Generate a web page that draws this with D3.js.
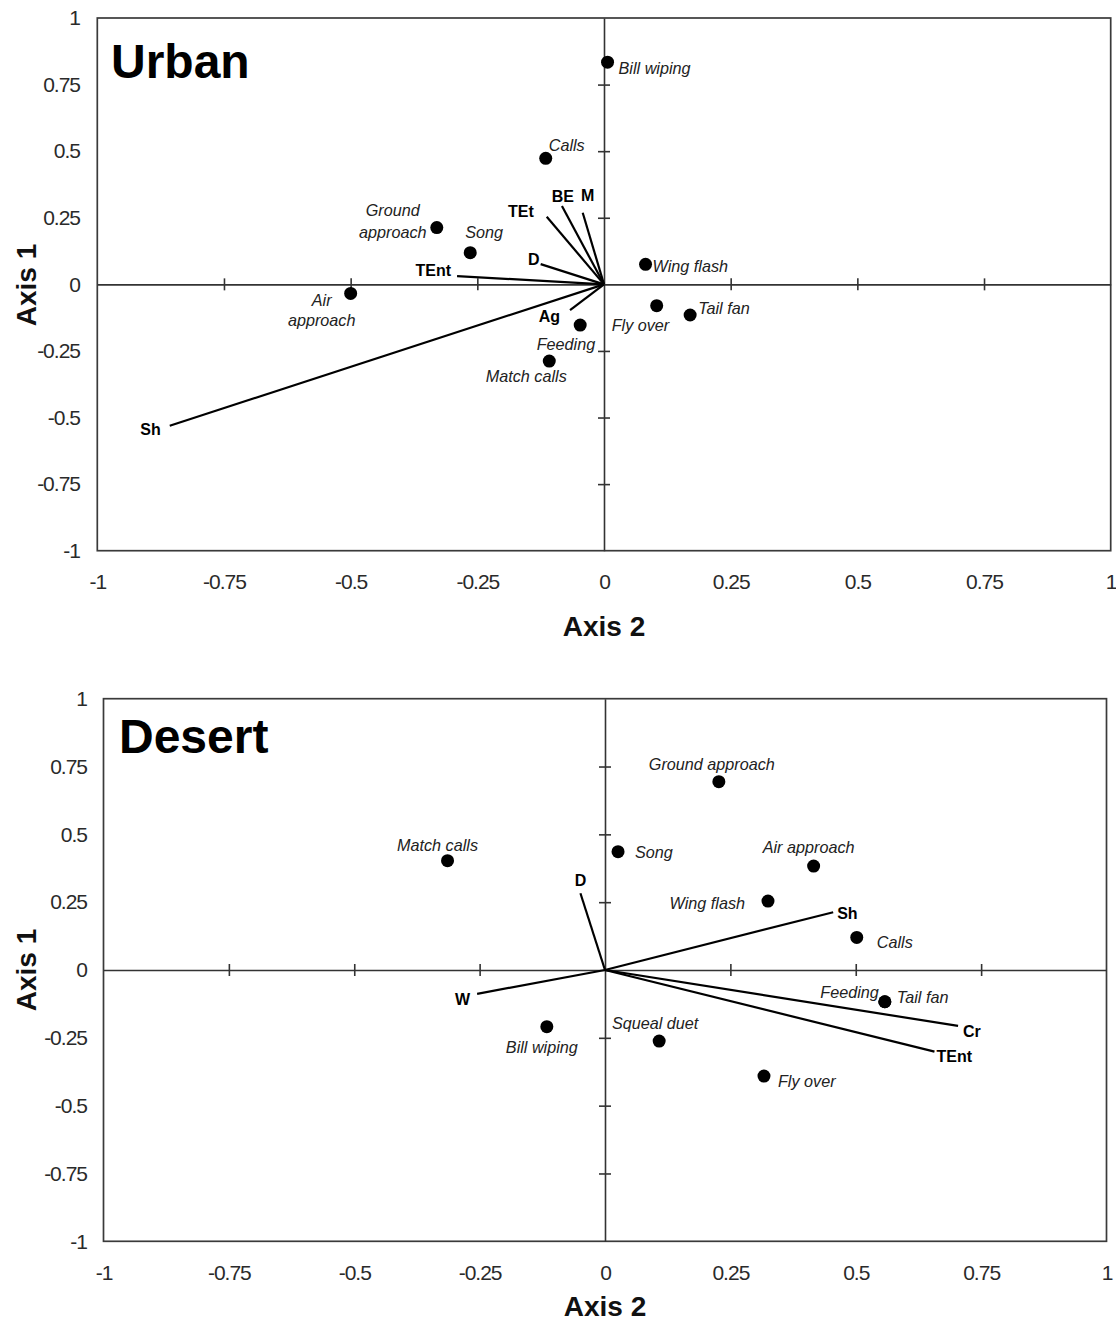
<!DOCTYPE html>
<html>
<head>
<meta charset="utf-8">
<script src="https://cdn.jsdelivr.net/npm/d3@7/dist/d3.min.js"></script>
<style>
  html, body { margin: 0; padding: 0; background: #fff; }
  svg { display: block; }
</style>
</head>
<body>
<svg id="chart" width="1116" height="1322"></svg>
<script>
// ---------------- DATA ----------------
const tickValues = [-1, -0.75, -0.5, -0.25, 0, 0.25, 0.5, 0.75, 1];
const tickLabels = ["-1", "-0.75", "-0.5", "-0.25", "0", "0.25", "0.5", "0.75", "1"];
const innerTicks = [-0.75, -0.5, -0.25, 0.25, 0.5, 0.75];

// Urban: behaviours (Axis 2 = x, Axis 1 = y)
const urbanBehaviours = ["Bill wiping", "Calls", "Ground approach", "Song", "Air approach",
                         "Wing flash", "Fly over", "Tail fan", "Feeding", "Match calls"];
const urbanBehAxis2 = [0.007, -0.115, -0.330, -0.264, -0.500, 0.082, 0.104, 0.170, -0.047, -0.108];
const urbanBehAxis1 = [0.834, 0.473, 0.213, 0.119, -0.034, 0.075, -0.080, -0.115, -0.153, -0.288];
// Urban: variables (vectors)
const urbanVars = ["TEnt", "D", "TEt", "BE", "M", "Ag", "Sh"];
const urbanVarAxis2 = [-0.290, -0.125, -0.113, -0.083, -0.042, -0.067, -0.857];
const urbanVarAxis1 = [0.031, 0.076, 0.254, 0.294, 0.269, -0.097, -0.531];

// Desert: behaviours
const desertBehaviours = ["Ground approach", "Match calls", "Song", "Air approach", "Wing flash",
                          "Calls", "Tail fan", "Feeding", "Bill wiping", "Squeal duet", "Fly over"];
const desertBehAxis2 = [0.227, -0.314, 0.026, 0.416, 0.325, 0.502, 0.558, 0.558, -0.116, 0.108, 0.317];
const desertBehAxis1 = [0.694, 0.403, 0.436, 0.383, 0.254, 0.120, -0.117, -0.117, -0.209, -0.262, -0.391];
// Desert: variables
const desertVars = ["D", "W", "Sh", "Cr", "TEnt"];
const desertVarAxis2 = [-0.049, -0.255, 0.455, 0.704, 0.657];
const desertVarAxis1 = [0.283, -0.088, 0.213, -0.206, -0.301];

// ---------------- LAYOUT (label placement, px) ----------------
const urbanBehLabelPos = {
  "Bill wiping":     {dx: 11, dy: 6, a: "start"},
  "Calls":           {dx: 3, dy: -13, a: "start"},
  "Ground approach": {dx: -44, dy: -17, a: "middle", lines: ["Ground", "approach"], lh: 22},
  "Song":            {dx: -5, dy: -20, a: "start"},
  "Air approach":    {dx: -29, dy: 7, a: "middle", lines: ["Air", "approach"], lh: 20},
  "Wing flash":      {dx: 7, dy: 2, a: "start"},
  "Fly over":        {dx: -45, dy: 20, a: "start"},
  "Tail fan":        {dx: 8, dy: -7, a: "start"},
  "Feeding":         {dx: 15, dy: 19, a: "end"},
  "Match calls":     {dx: -23, dy: 15, a: "middle"}
};
const urbanVarLabelPos = {
  "TEnt": {dx: -6, dy: -6, a: "end"},
  "D":    {dx: -1, dy: -5, a: "end"},
  "TEt":  {dx: -13, dy: -5, a: "end"},
  "BE":   {dx: 1, dy: -10, a: "middle"},
  "M":    {dx: 5, dy: -17, a: "middle"},
  "Ag":   {dx: -10, dy: 6, a: "end"},
  "Sh":   {dx: -9, dy: 4, a: "end"}
};
const desertBehLabelPos = {
  "Ground approach": {dx: -7, dy: -17, a: "middle"},
  "Match calls":     {dx: -10, dy: -15, a: "middle"},
  "Song":            {dx: 17, dy: 1, a: "start"},
  "Air approach":    {dx: -5, dy: -19, a: "middle"},
  "Wing flash":      {dx: -23, dy: 2, a: "end"},
  "Calls":           {dx: 20, dy: 5, a: "start"},
  "Tail fan":        {dx: 12, dy: -4, a: "start"},
  "Feeding":         {dx: -6, dy: -9, a: "end"},
  "Bill wiping":     {dx: -5, dy: 21, a: "middle"},
  "Squeal duet":     {dx: -4, dy: -18, a: "middle"},
  "Fly over":        {dx: 14, dy: 5, a: "start"}
};
const desertVarLabelPos = {
  "D":    {dx: 0, dy: -13, a: "middle"},
  "W":    {dx: -7, dy: 6, a: "end"},
  "Sh":   {dx: 4, dy: 1, a: "start"},
  "Cr":   {dx: 5, dy: 6, a: "start"},
  "TEnt": {dx: 2, dy: 5, a: "start"}
};

const panels = [
  {
    title: "Urban", titleX: 111, titleY: 78,
    x0: 97.3, x1: 1110.7, y0: 18, y1: 550.7,
    xLabelY: 582, yLabelX: 80, axis2Y: 626, axis1Y: 285,
    beh: urbanBehaviours, bx: urbanBehAxis2, by: urbanBehAxis1, bpos: urbanBehLabelPos,
    vars: urbanVars, vx: urbanVarAxis2, vy: urbanVarAxis1, vpos: urbanVarLabelPos
  },
  {
    title: "Desert", titleX: 119, titleY: 753,
    x0: 103.5, x1: 1106.5, y0: 698.7, y1: 1241.3,
    xLabelY: 1273, yLabelX: 87, axis2Y: 1306, axis1Y: 970,
    beh: desertBehaviours, bx: desertBehAxis2, by: desertBehAxis1, bpos: desertBehLabelPos,
    vars: desertVars, vx: desertVarAxis2, vy: desertVarAxis1, vpos: desertVarLabelPos
  }
];

// ---------------- DRAW ----------------
const svg = d3.select("#chart");
svg.append("rect").attr("width", 1116).attr("height", 1322).attr("fill", "#fff");

const FONT = "'Liberation Sans', Arial, Helvetica, sans-serif";
const fmt = v => tickLabels[tickValues.indexOf(v)];

panels.forEach(p => {
  const x = d3.scaleLinear().domain([-1, 1]).range([p.x0, p.x1]);
  const y = d3.scaleLinear().domain([-1, 1]).range([p.y1, p.y0]);
  const g = svg.append("g");

  // frame
  g.append("rect")
    .attr("x", x(-1)).attr("y", y(1))
    .attr("width", x(1) - x(-1)).attr("height", y(-1) - y(1))
    .attr("fill", "none").attr("stroke", "#3a3a3a").attr("stroke-width", 1.7);

  // zero axes with crossing ticks
  const hx = g.append("g").attr("transform", `translate(0,${y(0)})`)
    .call(d3.axisBottom(x).tickValues(innerTicks).tickSize(6).tickSizeOuter(0).tickFormat(""));
  hx.selectAll(".tick line").attr("y1", -6).attr("y2", 6);
  const vy = g.append("g").attr("transform", `translate(${x(0)},0)`)
    .call(d3.axisLeft(y).tickValues(innerTicks).tickSize(6).tickSizeOuter(0).tickFormat(""));
  vy.selectAll(".tick line").attr("x1", -6).attr("x2", 6);
  [hx, vy].forEach(a => {
    a.select(".domain").attr("stroke", "#333").attr("stroke-width", 1.6);
    a.selectAll(".tick line").attr("stroke", "#333").attr("stroke-width", 1.6);
  });

  // outer tick labels
  const bx = g.append("g").attr("transform", `translate(0,${p.xLabelY})`)
    .call(d3.axisBottom(x).tickValues(tickValues).tickSize(0).tickPadding(0).tickFormat(fmt));
  bx.select(".domain").remove();
  bx.selectAll("text").attr("dy", "0.35em").attr("y", 0)
    .attr("font-family", FONT).attr("font-size", 21).attr("fill", "#2a2a2a")
    .attr("letter-spacing", -1);
  const ly = g.append("g").attr("transform", `translate(${p.yLabelX},0)`)
    .call(d3.axisLeft(y).tickValues(tickValues).tickSize(0).tickPadding(0).tickFormat(fmt));
  ly.select(".domain").remove();
  ly.selectAll("text").attr("x", 0)
    .attr("font-family", FONT).attr("font-size", 21).attr("fill", "#2a2a2a")
    .attr("letter-spacing", -1);

  // axis titles
  g.append("text").attr("x", x(0)).attr("y", p.axis2Y).attr("dy", "0.35em")
    .attr("text-anchor", "middle").attr("font-family", FONT).attr("font-weight", "bold")
    .attr("font-size", 28).attr("fill", "#111").text("Axis 2");
  g.append("text").attr("transform", `translate(36,${p.axis1Y}) rotate(-90)`)
    .attr("text-anchor", "middle").attr("font-family", FONT).attr("font-weight", "bold")
    .attr("font-size", 28).attr("fill", "#111").text("Axis 1");

  // panel title
  g.append("text").attr("x", p.titleX).attr("y", p.titleY)
    .attr("font-family", FONT).attr("font-weight", "bold").attr("font-size", 48)
    .attr("fill", "#000").text(p.title);

  // vectors
  const vdata = p.vars.map((n, i) => ({name: n, x: p.vx[i], y: p.vy[i]}));
  g.selectAll(".vec").data(vdata).enter().append("line")
    .attr("x1", x(0)).attr("y1", y(0))
    .attr("x2", d => x(d.x)).attr("y2", d => y(d.y))
    .attr("stroke", "#000").attr("stroke-width", 2.2);
  g.selectAll(".vlab").data(vdata).enter().append("text")
    .attr("x", d => x(d.x) + p.vpos[d.name].dx)
    .attr("y", d => y(d.y) + p.vpos[d.name].dy)
    .attr("dy", "0.35em")
    .attr("text-anchor", d => p.vpos[d.name].a)
    .attr("font-family", FONT).attr("font-weight", "bold").attr("font-size", 16)
    .attr("fill", "#000").text(d => d.name);

  // behaviour points
  const bdata = p.beh.map((n, i) => ({name: n, x: p.bx[i], y: p.by[i]}));
  g.selectAll(".pt").data(bdata).enter().append("circle")
    .attr("cx", d => x(d.x)).attr("cy", d => y(d.y)).attr("r", 6.5).attr("fill", "#000");
  bdata.forEach(d => {
    const pos = p.bpos[d.name];
    const lines = pos.lines || [d.name];
    const lh = pos.lh || 0;
    lines.forEach((t, k) => {
      g.append("text")
        .attr("x", x(d.x) + pos.dx)
        .attr("y", y(d.y) + pos.dy + k * lh)
        .attr("dy", "0.35em")
        .attr("text-anchor", pos.a)
        .attr("font-family", FONT).attr("font-style", "italic").attr("font-size", 16.2)
        .attr("fill", "#222").text(t);
    });
  });
});
</script>
</body>
</html>
